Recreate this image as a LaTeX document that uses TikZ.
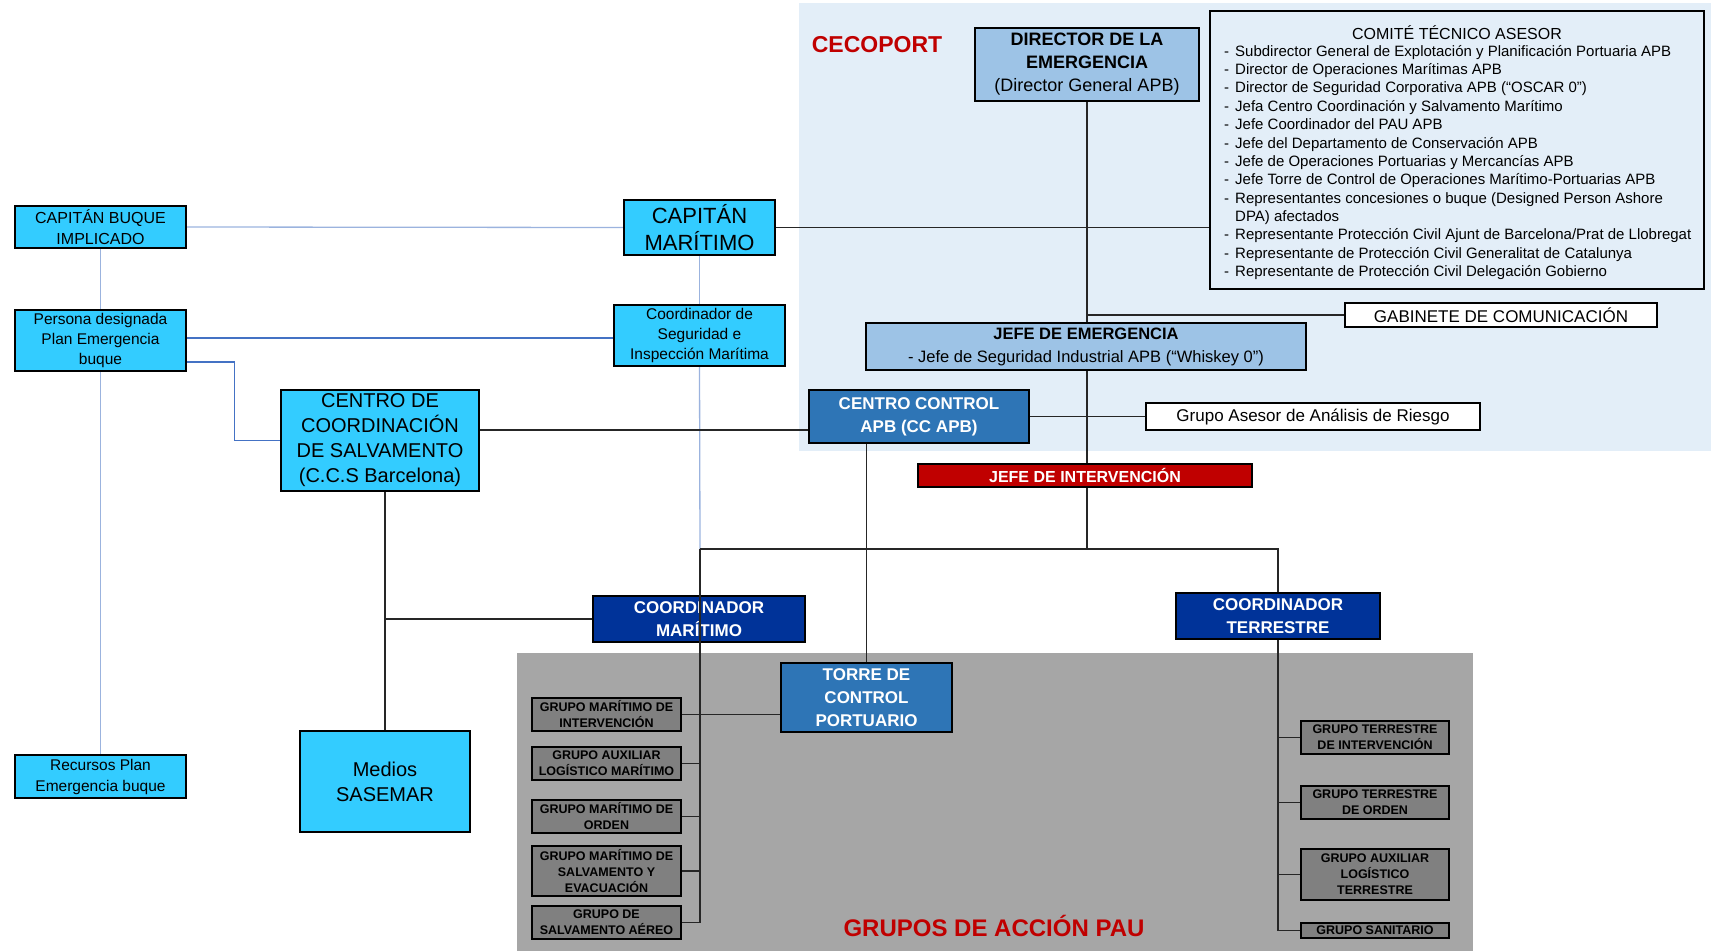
\documentclass[tikz,border=0pt]{standalone}
\usepackage{fontspec}
\setmainfont{Liberation Sans}

\definecolor{cian}{HTML}{33CCFF}
\definecolor{azulclaro}{HTML}{9DC3E6}
\definecolor{fondo}{HTML}{E3EEF8}
\definecolor{azulmedio}{HTML}{2E75B6}
\definecolor{azuloscuro}{HTML}{003399}
\definecolor{rojo}{HTML}{C00000}
\definecolor{grisfondo}{HTML}{A6A6A6}
\definecolor{grisgrupo}{HTML}{808080}
\definecolor{trazoclaro}{HTML}{9BB3DE}
\definecolor{trazoazul}{HTML}{4472C4}

\newcommand{\fs}[2]{\fontsize{#1}{#2}\selectfont}
\newcommand{\guion}{\makebox[11pt][l]{-}}

\pgfdeclarelayer{fondos}
\pgfdeclarelayer{cables}
\pgfsetlayers{fondos,cables,main}

\tikzset{
  caja/.style={draw=black, line width=1.6pt, inner sep=0pt, align=center},
  celeste/.style={caja, fill=cian},
  blanco/.style={caja, fill=white},
  grupo/.style={caja, fill=grisgrupo, line width=1.3pt, font=\bfseries\fs{12.5}{16},
    minimum width=149pt, minimum height=33pt},
  grupot/.style={grupo, minimum width=148pt},
  linea/.style={line width=1.4pt, draw=black!85},
  enlace/.style={line width=1.3pt, draw=trazoclaro}
}

\begin{document}
\begin{tikzpicture}[x=1pt,y=-1pt]
  \useasboundingbox (0,0) rectangle (1716,951);
  \begin{pgfonlayer}{fondos}
    \fill[fondo] (799,3) rectangle (1711,451);
    \fill[grisfondo] (517,653) rectangle (1473,951);
  \end{pgfonlayer}

  \node[font=\bfseries\fs{23}{23}, text=rojo] (cecoport) at (877,45) {CECOPORT};
  \node[font=\bfseries\fs{24}{24}, text=rojo] (pau) at (994,926) {GRUPOS DE ACCIÓN PAU};

  \node[caja, fill=azulclaro, minimum width=224pt, minimum height=73pt, font=\fs{18}{23}] (dir) at (1087,64.5)
    {\textbf{DIRECTOR DE LA}\\\textbf{EMERGENCIA}\\(Director General APB)};
  \node[caja, minimum width=494pt, minimum height=278pt] (comite) at (1457,150) {};
  \node[font=\fs{16}{18}] (comtit) at (1457,33) {COMITÉ TÉCNICO ASESOR};
  \node[anchor=north west, inner sep=0pt, align=left, font=\fs{15}{18.35}] (comlist) at (1224,45)
    {\guion Subdirector General de Explotación y Planificación Portuaria APB\\
     \guion Director de Operaciones Marítimas APB\\
     \guion Director de Seguridad Corporativa APB (“OSCAR 0”)\\
     \guion Jefa Centro Coordinación y Salvamento Marítimo\\
     \guion Jefe Coordinador del PAU APB\\
     \guion Jefe del Departamento de Conservación APB\\
     \guion Jefe de Operaciones Portuarias y Mercancías APB\\
     \guion Jefe Torre de Control de Operaciones Marítimo-Portuarias APB\\
     \guion Representantes concesiones o buque (Designed Person Ashore\\
     \hspace*{11pt}DPA) afectados\\
     \guion Representante Protección Civil Ajunt de Barcelona/Prat de Llobregat\\
     \guion Representante de Protección Civil Generalitat de Catalunya\\
     \guion Representante de Protección Civil Delegación Gobierno};

  \node[celeste, minimum width=151pt, minimum height=55pt, font=\fs{22}{27}] (capm) at (699.5,227.5) {CAPITÁN\\MARÍTIMO};
  \node[celeste, minimum width=171pt, minimum height=42pt, font=\fs{16}{21}] (capb) at (100.5,227) {CAPITÁN BUQUE\\IMPLICADO};
  \node[celeste, minimum width=171pt, minimum height=61pt, font=\fs{15.5}{20}] (persona) at (100.5,340.5) {Persona designada\\Plan Emergencia\\buque};
  \node[celeste, minimum width=171pt, minimum height=61pt, font=\fs{15.5}{20}] (coordseg) at (699.5,335.5) {Coordinador de\\Seguridad e\\Inspección Marítima};
  \node[celeste, minimum width=198pt, minimum height=101pt, font=\fs{20}{25}] (ccs) at (380,440.5) {CENTRO DE\\COORDINACIÓN\\DE SALVAMENTO\\(C.C.S Barcelona)};
  \node[celeste, minimum width=170pt, minimum height=101pt, font=\fs{20}{25}] (sasemar) at (385,781.5) {Medios\\SASEMAR};
  \node[celeste, minimum width=171pt, minimum height=43pt, font=\fs{15.5}{21}] (recursos) at (100.5,776.5) {Recursos Plan\\Emergencia buque};

  \node[caja, fill=azulclaro, minimum width=440pt, minimum height=47pt, font=\fs{16.5}{23}] (jefeem) at (1086,346.5)
    {\textbf{JEFE DE EMERGENCIA}\\- Jefe de Seguridad Industrial APB  (“Whiskey 0”)};
  \node[blanco, minimum width=312pt, minimum height=24pt, font=\fs{17}{20}] (gabinete) at (1501,315) {GABINETE DE COMUNICACIÓN};
  \node[caja, fill=azulmedio, text=white, minimum width=220pt, minimum height=53pt, font=\bfseries\fs{17}{23}] (cc) at (919,416.5) {CENTRO CONTROL\\APB (CC APB)};
  \node[blanco, minimum width=334pt, minimum height=27pt, font=\fs{17}{20}] (asesor) at (1313,416.5) {Grupo Asesor de Análisis de Riesgo};
  \node[caja, fill=rojo, text=white, minimum width=334pt, minimum height=23pt, font=\bfseries\fs{16}{20}] (jefeint) at (1085,475.5) {JEFE DE INTERVENCIÓN};

  \node[caja, fill=azuloscuro, text=white, minimum width=212pt, minimum height=46pt, font=\bfseries\fs{17}{23}] (cmar) at (699,619) {COORDINADOR\\MARÍTIMO};
  \node[caja, fill=azuloscuro, text=white, minimum width=204pt, minimum height=46pt, font=\bfseries\fs{17}{23}] (cter) at (1278,616) {COORDINADOR\\TERRESTRE};
  \node[caja, fill=azulmedio, text=white, minimum width=171pt, minimum height=69pt, font=\bfseries\fs{17}{23}] (torre) at (866.5,697.5) {TORRE DE\\CONTROL\\PORTUARIO};

  \foreach \nom/\yy/\alto/\txt in {g1/714.5/33/{GRUPO MARÍTIMO DE\\INTERVENCIÓN},
      g2/763.5/33/{GRUPO AUXILIAR\\LOGÍSTICO MARÍTIMO}, g3/816.5/33/{GRUPO MARÍTIMO DE\\ORDEN},
      g4/871/50/{GRUPO MARÍTIMO DE\\SALVAMENTO Y\\EVACUACIÓN}, g5/922.5/33/{GRUPO DE\\SALVAMENTO AÉREO}}
    \node[grupo, minimum height=\alto pt] (\nom) at (606.5,\yy) {\txt};
  \foreach \nom/\yy/\alto/\txt in {t1/737.5/33/{GRUPO TERRESTRE\\DE INTERVENCIÓN},
      t2/802.5/33/{GRUPO TERRESTRE\\DE ORDEN}, t3/874.5/51/{GRUPO AUXILIAR\\LOGÍSTICO\\TERRESTRE},
      t4/930.5/15/{GRUPO SANITARIO}}
    \node[grupot, minimum height=\alto pt] (\nom) at (1375,\yy) {\txt};

  \coordinate (jl) at (700,549);
  \coordinate (jr) at (cter.north |- jl);

  \begin{pgfonlayer}{cables}
    \draw[enlace] (capb.east) -- (capm.west);
    \draw[enlace] (capb.south) -- (persona.north);
    \draw[enlace] (persona.south) -- (recursos.north);
    \draw[enlace, draw=trazoazul] ([yshift=2.5pt]persona.east) -- ([yshift=-2.5pt]coordseg.west);
    \draw[enlace, draw=trazoazul] ([yshift=-21.5pt]persona.east) -- ++(48,0) |- (ccs.west);
    \draw[enlace] (capm.south) -- (coordseg.north);
    \draw[enlace] (coordseg.south) -- (jl);
    \draw[linea] (capm.east) -- (capm.east -| comite.west);
    \draw[linea] (dir.south) -- (dir.south |- jl);
    \draw[linea] (dir.south |- gabinete.west) -- (gabinete.west);
    \draw[linea] (jl) -- (jr) -- (cter.north);
    \draw[linea] ([yshift=10.5pt]ccs.east) -- ([yshift=-13.5pt]cc.west);
    \draw[linea] (cc.east) -- (asesor.west);
    \draw[linea] (torre.north |- cc.south) -- (torre.north);
    \draw[linea] (sasemar.north |- ccs.south) -- (sasemar.north);
    \draw[linea] (sasemar.north |- cmar.west) -- (cmar.west);
    \draw[linea] (g1.east) -- (torre.west |- g1.east);
    \draw[linea] (cter.south) -- (cter.south |- t4.west);
    \foreach \nom in {t1,t2,t3,t4}
      \draw[linea] (\nom.west -| cter.south) -- (\nom.west);
    \foreach \nom in {g1,g2,g3,g4,g5}
      \draw[linea] (\nom.east) -- (\nom.east -| jl);
  \end{pgfonlayer}
  \draw[linea] (jl) -- (jl |- g5.east);
\end{tikzpicture}
\end{document}
